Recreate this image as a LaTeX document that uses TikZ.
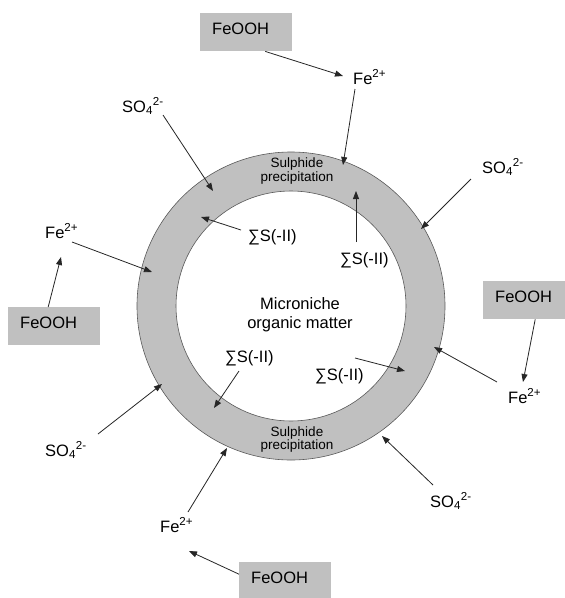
\documentclass[tikz,border=0pt]{standalone}
\usepackage{fontspec}
\setmainfont{Liberation Sans}
\usetikzlibrary{arrows.meta}
\definecolor{ringgray}{RGB}{192, 192, 192}
\definecolor{ringedge}{RGB}{90, 90, 90}
\newcommand{\lblsize}{\fontsize{16.5}{19}\selectfont}
\newcommand{\bandsize}{\fontsize{13.5}{13.5}\selectfont}
\newcommand{\sulf}{SO\textsubscript{4}\textsuperscript{2-}}
\newcommand{\ferr}{Fe\textsuperscript{2+}}
\newcommand{\sumS}{∑S(-II)}

\begin{document}
\begin{tikzpicture}[
    x=1pt, y=-1pt,
    box/.style={fill=ringgray, anchor=north west, minimum height=38pt,
                text width=68pt, inner xsep=12pt, inner ysep=0pt,
                align=left, text depth=7pt, font=\lblsize},
    lbl/.style={anchor=base west, inner sep=0pt, font=\lblsize},
    band/.style={align=center, font=\bandsize},
    arr/.style={-{Triangle[length=8pt, width=6pt]}, line width=0.8pt, black!85}
]
\path[use as bounding box, fill=white] (0,0) rectangle (565,598);
\clip (0,0) rectangle (565,598);

%% ── Ring ───────────────────────────────────────────────────────────────
\coordinate (ctr) at (291,306);
\fill[ringgray, even odd rule] (ctr) circle[radius=154pt] (ctr) circle[radius=115pt];
\draw[ringedge, line width=0.6pt] (ctr) circle[radius=154pt] (ctr) circle[radius=115pt];

\node[band] (sp1) at (297,171)   {Sulphide\\precipitation};
\node[band] (sp2) at (297,439.5) {Sulphide\\precipitation};
\node[align=center, font=\lblsize] (core) at (300,315) {Microniche\\organic matter};

%% ── FeOOH boxes ────────────────────────────────────────────────────────
\node[box] (fo1) at (200,13)  {FeOOH};
\node[box] (fo2) at (8,307)   {FeOOH};
\node[box] (fo3) at (483,281) {FeOOH};
\node[box] (fo4) at (239,562) {FeOOH};

%% ── Ions ───────────────────────────────────────────────────────────────
\node[lbl] (fe1) at (353,84)  {\ferr};
\node[lbl] (fe2) at (45,238)  {\ferr};
\node[lbl] (fe3) at (508,403) {\ferr};
\node[lbl] (fe4) at (160,532) {\ferr};
\node[lbl] (so1) at (122,112) {\sulf};
\node[lbl] (so2) at (482,173) {\sulf};
\node[lbl] (so3) at (45,456)  {\sulf};
\node[lbl] (so4) at (430,507) {\sulf};
\node[lbl] (sg1) at (248,241) {\sumS};
\node[lbl] (sg2) at (340,264) {\sumS};
\node[lbl] (sg3) at (225,362) {\sumS};
\node[lbl] (sg4) at (315,380) {\sumS};

%% ── Points on the ring ─────────────────────────────────────────────────
\coordinate (r1)  at (343,165);
\coordinate (r2)  at (213,191);
\coordinate (r3)  at (421,229);
\coordinate (r4)  at (201,217);
\coordinate (r5)  at (356,191);
\coordinate (r6)  at (152,272);
\coordinate (r7)  at (434,347);
\coordinate (r8)  at (405,371);
\coordinate (r9)  at (214,408);
\coordinate (r10) at (162,384);
\coordinate (r11) at (227,448);
\coordinate (r12) at (382,436);

%% ── Arrows ─────────────────────────────────────────────────────────────
\draw[arr] ([xshift=19pt]fo1.south) -- ([xshift=-10pt, yshift=8pt]fe1.base west);
\draw[arr] ([xshift=2pt, yshift=-5pt]fe1.base west) -- (r1);
\draw[arr] ([xshift=41pt, yshift=-3pt]so1.base west) -- (r2);
\draw[arr] ([xshift=-11pt, yshift=-6pt]so2.base west) -- (r3);
\draw[arr] ([xshift=-7pt, yshift=11pt]sg1.base west) -- (r4);
\draw[arr] ([xshift=16pt, yshift=22pt]sg2.base west) -- (r5);
\draw[arr] ([xshift=-6pt]fo2.north) -- ([xshift=16pt, yshift=-19pt]fe2.base west);
\draw[arr] ([xshift=27pt, yshift=-4pt]fe2.base west) -- (r6);
\draw[arr] ([xshift=6pt]fo3.south) -- ([xshift=15pt, yshift=21pt]fe3.base west);
\draw[arr] ([xshift=-11pt, yshift=21pt]fe3.base west) -- (r7);
\draw[arr] ([xshift=40pt, yshift=22pt]sg4.base west) -- (r8);
\draw[arr] ([xshift=14pt, yshift=-9pt]sg3.base west) -- (r9);
\draw[arr] ([xshift=53pt, yshift=22pt]so3.base west) -- (r10);
\draw[arr] ([xshift=28pt, yshift=20pt]fe4.base west) -- (r11);
\draw[arr] ([yshift=7pt]fo4.west) -- ([xshift=29pt, yshift=-19pt]fe4.base west);
\draw[arr] ([xshift=3pt, yshift=22pt]so4.base west) -- (r12);
\end{tikzpicture}
\end{document}
